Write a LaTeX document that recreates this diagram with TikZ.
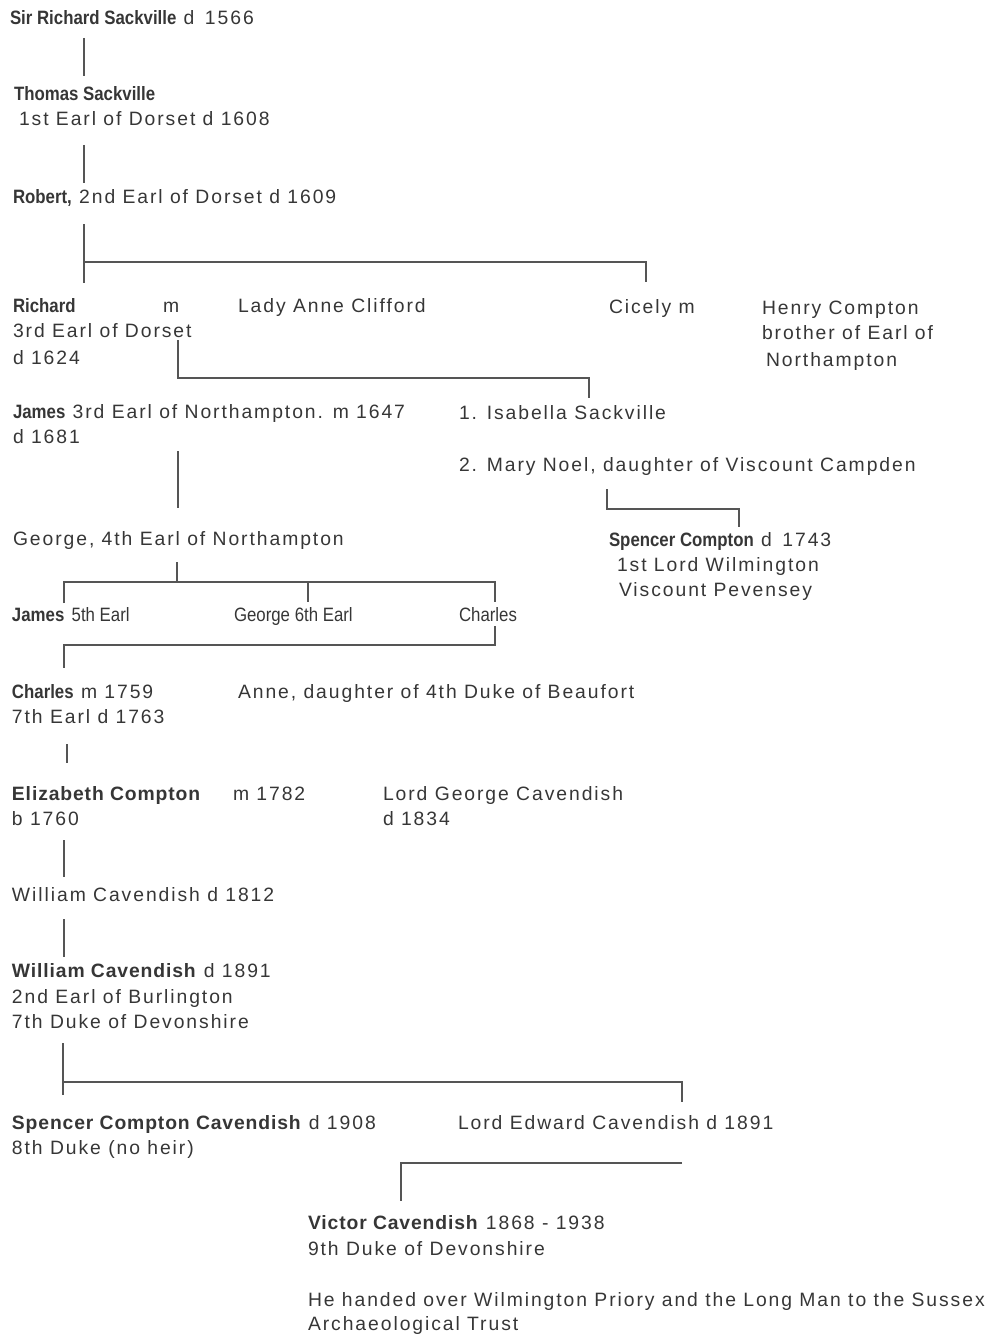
\documentclass[tikz,border=0pt]{standalone}
\usepackage{fontspec}
\setmainfont[LetterSpace=10,BoldFeatures={LetterSpace=4.5}]{Liberation Sans}
\newfontfamily\cond[FakeStretch=0.87]{Liberation Sans}
\definecolor{ink}{HTML}{363636}
\definecolor{rule}{HTML}{555555}
\tikzset{
  txt/.style={anchor=base west, inner sep=0pt, outer sep=0pt, text=ink, font=\fontsize{14.5}{18.75}\selectfont},
  link/.style={draw=rule, line width=1.1pt}
}
\newcommand{\cb}[1]{{\cond\bfseries #1}}
\newcommand{\cn}[1]{{\cond #1}}
\begin{document}
\begin{tikzpicture}[x=0.75pt,y=-0.75pt]
\useasboundingbox (0,0) rectangle (987,1334);
% texts
\node[txt] (t1) at (10,25) {\cb{Sir Richard Sackville} d\, 1566};
\node[txt] (t2) at (14,101) {\cb{Thomas Sackville}};
\node[txt] (t3) at (19,126) {1st Earl of Dorset d 1608};
\node[txt] (t4) at (13,203) {\cb{Robert,} 2nd Earl of Dorset d 1609};
\node[txt] (t5) at (13,312) {\cb{Richard}};
\node[txt] (t5m) at (163,312) {m};
\node[txt] (t6) at (238,312) {Lady Anne Clifford};
\node[txt] (t7) at (609,313) {Cicely m};
\node[txt] (t8) at (762,314) {Henry Compton};
\node[txt] (t8b) at (762,339) {brother of Earl of};
\node[txt] (t8c) at (766,366) {Northampton};
\node[txt] (t5b) at (13,337) {3rd Earl of Dorset};
\node[txt] (t5c) at (13,364) {d 1624};
\node[txt] (t9) at (13,418) {\cb{James} 3rd Earl of Northampton. m 1647};
\node[txt] (t9b) at (13,443) {d 1681};
\node[txt] (t10) at (459,419) {1. Isabella Sackville};
\node[txt] (t11) at (459,471) {2. Mary Noel, daughter of Viscount Campden};
\node[txt] (t12) at (13,545) {George, 4th Earl of Northampton};
\node[txt] (t13) at (609,546) {\cb{Spencer Compton} d\, 1743};
\node[txt] (t13b) at (617,571) {1st Lord Wilmington};
\node[txt] (t13c) at (619,596) {Viscount Pevensey};
\node[txt] (t14) at (12,621) {\cb{James} \cn{5th Earl}};
\node[txt] (t15) at (234,621) {\cn{George 6th Earl}};
\node[txt] (t16) at (459,621) {\cn{Charles}};
\node[txt] (t17) at (12,698) {\cb{Charles} m 1759};
\node[txt] (t17b) at (12,723) {7th Earl d 1763};
\node[txt] (t18) at (238,698) {Anne, daughter of 4th Duke of Beaufort};
\node[txt] (t19) at (12,800) {\textbf{Elizabeth Compton}};
\node[txt] (t19m) at (233,800) {m 1782};
\node[txt] (t19b) at (12,825) {b 1760};
\node[txt] (t20) at (383,800) {Lord George Cavendish};
\node[txt] (t20b) at (383,825) {d 1834};
\node[txt] (t21) at (12,901) {William Cavendish d 1812};
\node[txt] (t22) at (12,977) {\textbf{William Cavendish} d 1891};
\node[txt] (t22b) at (12,1003) {2nd Earl of Burlington};
\node[txt] (t22c) at (12,1028) {7th Duke of Devonshire};
\node[txt] (t23) at (12,1129) {\textbf{Spencer Compton Cavendish} d 1908};
\node[txt] (t23b) at (12,1154) {8th Duke (no heir)};
\node[txt] (t24) at (458,1129) {Lord Edward Cavendish d 1891};
\node[txt] (t25) at (308,1229) {\textbf{Victor Cavendish} 1868 - 1938};
\node[txt] (t25b) at (308,1255) {9th Duke of Devonshire};
\node[txt] (t26) at (308,1306) {He handed over Wilmington Priory and the Long Man to the Sussex};
\node[txt] (t26b) at (308,1330) {Archaeological Trust};
% connector points
\coordinate (a1) at (84,38);   \coordinate (a2) at (84,76);
\coordinate (b1) at (84,145);  \coordinate (b2) at (84,183);
\coordinate (c1) at (84,224);  \coordinate (c2) at (84,283);
\coordinate (c3) at (84,262);  \coordinate (c4) at (646,262); \coordinate (c5) at (646,282);
\coordinate (d1) at (178,340); \coordinate (d2) at (178,378); \coordinate (d3) at (589,378); \coordinate (d4) at (589,398);
\coordinate (e1) at (178,451); \coordinate (e2) at (178,508);
\coordinate (f1) at (607,489); \coordinate (f2) at (607,509); \coordinate (f3) at (739,509); \coordinate (f4) at (739,527);
\coordinate (g1) at (177,562); \coordinate (g2) at (177,582);
\coordinate (g3) at (64,603);  \coordinate (g4) at (64,582); \coordinate (g5) at (495,582); \coordinate (g6) at (495,602);
\coordinate (g7) at (308,582); \coordinate (g8) at (308,602);
\coordinate (h1) at (495,626); \coordinate (h2) at (495,645); \coordinate (h3) at (64,645); \coordinate (h4) at (64,668);
\coordinate (i1) at (67,744);  \coordinate (i2) at (67,763);
\coordinate (j1) at (64,840);  \coordinate (j2) at (64,877);
\coordinate (k1) at (64,919);  \coordinate (k2) at (64,957);
\coordinate (l1) at (63,1043); \coordinate (l2) at (63,1095);
\coordinate (l3) at (63,1082); \coordinate (l4) at (682,1082); \coordinate (l5) at (682,1102);
\coordinate (m1) at (682,1163); \coordinate (m2) at (401,1163); \coordinate (m3) at (401,1201);
% connectors
\draw[link] (a1) -- (a2);
\draw[link] (b1) -- (b2);
\draw[link] (c1) -- (c2);
\draw[link] (c3) -- (c4) -- (c5);
\draw[link] (d1) -- (d2) -- (d3) -- (d4);
\draw[link] (e1) -- (e2);
\draw[link] (f1) -- (f2) -- (f3) -- (f4);
\draw[link] (g1) -- (g2);
\draw[link] (g3) -- (g4) -- (g5) -- (g6);
\draw[link] (g7) -- (g8);
\draw[link] (h1) -- (h2) -- (h3) -- (h4);
\draw[link] (i1) -- (i2);
\draw[link] (j1) -- (j2);
\draw[link] (k1) -- (k2);
\draw[link] (l1) -- (l2);
\draw[link] (l3) -- (l4) -- (l5);
\draw[link] (m1) -- (m2) -- (m3);
\end{tikzpicture}
\end{document}
